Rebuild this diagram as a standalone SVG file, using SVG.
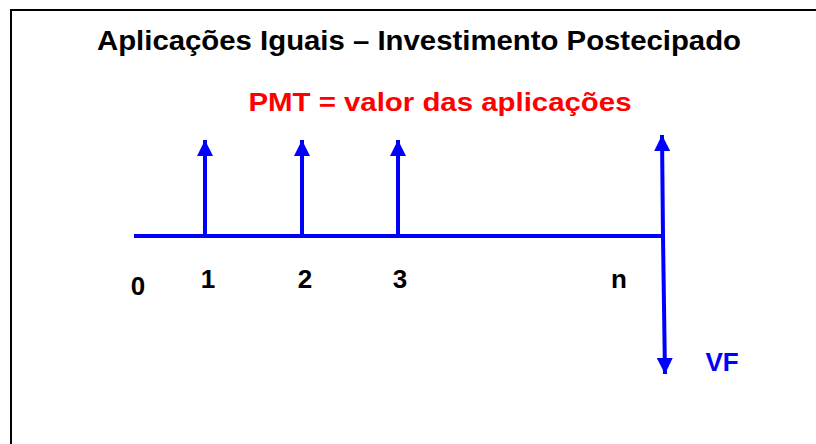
<svg xmlns="http://www.w3.org/2000/svg" width="816" height="444" viewBox="0 0 816 444">
<style>
.t{font-family:"Liberation Sans",Arial,sans-serif;font-weight:bold}
.ax{stroke:#0000ff;stroke-width:4;fill:none}
</style>
<defs>
<marker id="ah" markerUnits="userSpaceOnUse" markerWidth="16" markerHeight="16" viewBox="0 0 16 16" refX="16" refY="8" orient="auto">
<path d="M0,0 L16,8 L0,16 Z" fill="#0000ff"/>
</marker>
</defs>
<rect width="816" height="444" fill="#fff"/>
<path d="M11,444 V10 H816" fill="none" stroke="#000" stroke-width="2"/>
<text class="t" x="419" y="50" font-size="27" text-anchor="middle" textLength="644" lengthAdjust="spacingAndGlyphs">Aplicações Iguais – Investimento Postecipado</text>
<text class="t" x="440" y="111" font-size="25" fill="#ff0000" text-anchor="middle" textLength="383" lengthAdjust="spacingAndGlyphs">PMT = valor das aplicações</text>
<g id="connectors">
<line class="ax" x1="134" y1="236" x2="665" y2="236"/>
<line class="ax" x1="205" y1="236" x2="205" y2="140" marker-end="url(#ah)"/>
<line class="ax" x1="302" y1="236" x2="302" y2="140" marker-end="url(#ah)"/>
<line class="ax" x1="398" y1="236" x2="398" y2="140" marker-end="url(#ah)"/>
<line class="ax" x1="663" y1="236" x2="662" y2="135" marker-end="url(#ah)"/>
<line class="ax" x1="663" y1="236" x2="665" y2="374" marker-end="url(#ah)"/>
</g>
<g id="labels" class="t" font-size="26" text-anchor="middle">
<text x="138" y="295">0</text>
<text x="208" y="288">1</text>
<text x="305" y="288">2</text>
<text x="400" y="288">3</text>
<text x="619" y="288">n</text>
<text x="722" y="371" fill="#0000ff">VF</text>
</g>
</svg>
